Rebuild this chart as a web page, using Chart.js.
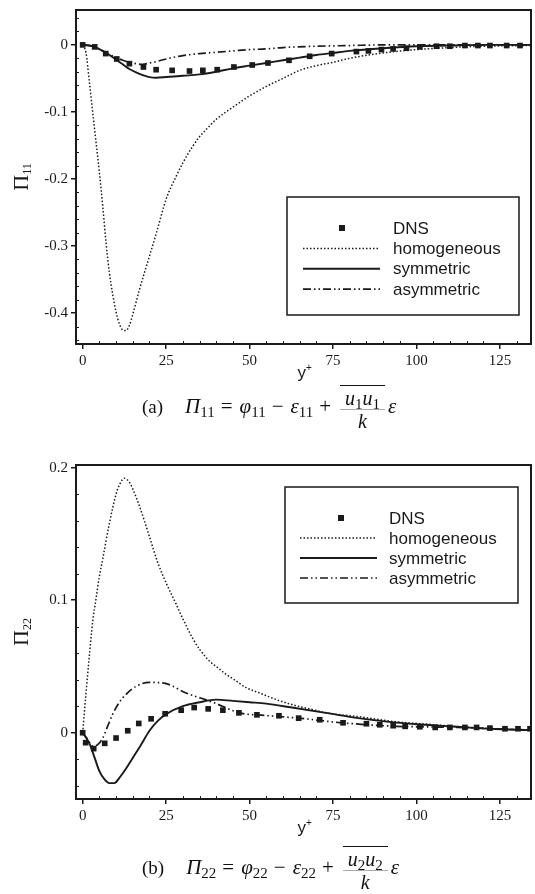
<!DOCTYPE html>
<html lang="en">
<head>
<meta charset="UTF-8">
<title>Pressure-strain redistribution terms</title>
<script src="https://cdn.jsdelivr.net/npm/chart.js"></script>
<style>
  body { margin: 0; background: #fff; width: 535px; height: 894px; position: relative; overflow: hidden; }
  canvas { position: absolute; left: 0; }
  #chartA { top: -2px; }
  #chartB { top: 453px; }
  .cap { position: absolute; left: 142px; font-family: 'Liberation Serif', serif; font-size: 21px; line-height: 24px; white-space: nowrap; color: #111; }
  .cap sub { font-size: 15px; line-height: 0; vertical-align: -4px; font-style: normal; }
  .cap .tag { margin-right: 22px; font-size: 19px; }
  .cap .op { margin: 0 7px 0 6px; }
  .frac { display: inline-block; vertical-align: middle; text-align: center; margin: 0 3px 0 2px; font-size: 20px; line-height: 22px; }
  .frac span { display: block; }
  .frac .num { border-top: 1px solid #111; border-bottom: 1px solid #aaa; padding: 1px 5px 0; }
</style>
</head>
<body>
<canvas id="chartA" width="535" height="394"></canvas>
<div class="cap" style="top:385px;">
  <span class="tag">(a)</span><i>Π</i><sub>11</sub><span class="op">=</span><i>φ</i><sub>11</sub><span class="op">−</span><i>ε</i><sub>11</sub><span class="op">+</span><span class="frac"><span class="num"><i>u</i><sub>1</sub><i>u</i><sub>1</sub></span><span><i>k</i></span></span><i>ε</i>
</div>
<canvas id="chartB" width="535" height="394"></canvas>
<div class="cap" style="top:846px;">
  <span class="tag">(b)</span><i>Π</i><sub>22</sub><span class="op">=</span><i>φ</i><sub>22</sub><span class="op">−</span><i>ε</i><sub>22</sub><span class="op">+</span><span class="frac"><span class="num"><i>u</i><sub>2</sub><i>u</i><sub>2</sub></span><span><i>k</i></span></span><i>ε</i>
</div>

<script>
// panel (a): Π11 against y+
const aDnsX = [0, 3.6, 6.9, 10.2, 14, 18.2, 22, 26.8, 32, 36, 40.3, 45.3, 50.8, 55.5, 61.8, 68, 74.6, 82, 85.6, 89.5, 93, 97, 101, 106, 110, 114.5, 118.4, 122, 127, 131];
const aDnsY = [0, -0.003, -0.013, -0.021, -0.028, -0.033, -0.037, -0.038, -0.039, -0.038, -0.037, -0.033, -0.030, -0.027, -0.023, -0.017, -0.013, -0.010, -0.009, -0.007, -0.006, -0.005, -0.003, -0.002, -0.002, -0.001, -0.001, -0.001, -0.001, -0.001];
const aHomX = [0, 1, 2, 3, 4, 5, 6, 7, 8, 9, 10, 11, 12, 13, 14, 15, 17, 20, 22, 25, 28, 30, 33, 35, 38, 40, 45, 50, 55, 60, 65, 70, 75, 80, 90, 100, 110, 120, 134];
const aHomY = [0, -0.012, -0.055, -0.1, -0.145, -0.19, -0.24, -0.295, -0.34, -0.372, -0.398, -0.416, -0.425, -0.426, -0.418, -0.402, -0.365, -0.315, -0.282, -0.23, -0.196, -0.176, -0.151, -0.137, -0.121, -0.111, -0.093, -0.076, -0.062, -0.05, -0.038, -0.031, -0.026, -0.02, -0.012, -0.007, -0.004, -0.002, -0.001];
const aSymX = [0, 2, 4, 6, 8, 10, 12, 14, 16, 18, 20, 22, 25, 30, 35, 40, 45, 50, 55, 60, 65, 70, 75, 80, 90, 100, 110, 120, 134];
const aSymY = [0, -0.001, -0.004, -0.009, -0.015, -0.022, -0.029, -0.036, -0.041, -0.045, -0.048, -0.049, -0.048, -0.046, -0.044, -0.04, -0.035, -0.031, -0.027, -0.023, -0.019, -0.015, -0.012, -0.009, -0.005, -0.002, -0.001, 0, 0];
const aAsymX = [0, 2, 4, 6, 8, 10, 12, 14, 16, 18, 20, 22, 25, 30, 35, 40, 45, 50, 55, 60, 70, 80, 90, 134];
const aAsymY = [0, -0.001, -0.004, -0.009, -0.014, -0.019, -0.023, -0.026, -0.028, -0.029, -0.027, -0.025, -0.021, -0.016, -0.013, -0.011, -0.009, -0.007, -0.006, -0.004, -0.002, -0.001, 0, 0];

// panel (b): Π22 against y+
const bDnsX = [0, 0.9, 3.3, 6.6, 10, 13.5, 16.8, 20.5, 24.7, 29.5, 33.4, 37.6, 42, 46.8, 52.2, 58.8, 64.7, 71, 78, 85, 89, 93, 96.6, 101, 105.6, 110, 114.5, 118, 122, 126.5, 130.4, 134];
const bDnsY = [0, -0.0075, -0.012, -0.008, -0.004, 0.0015, 0.007, 0.0105, 0.0143, 0.017, 0.019, 0.018, 0.017, 0.015, 0.0135, 0.0128, 0.011, 0.0098, 0.0075, 0.0068, 0.006, 0.0053, 0.0048, 0.0045, 0.004, 0.004, 0.004, 0.004, 0.0035, 0.003, 0.003, 0.003];
const bHomX = [0, 1, 2, 3, 4, 5, 6, 8, 10, 11, 12.5, 14, 15, 17, 20, 22.4, 25, 28, 30, 33, 35, 38, 40, 43, 46, 49, 53, 58, 63, 68, 73, 83, 93, 103, 113, 123, 134];
const bHomY = [0, 0.03, 0.058, 0.084, 0.101, 0.118, 0.131, 0.158, 0.18, 0.187, 0.192, 0.189, 0.184, 0.171, 0.148, 0.129, 0.113, 0.097, 0.086, 0.071, 0.063, 0.054, 0.05, 0.044, 0.039, 0.034, 0.03, 0.025, 0.021, 0.018, 0.015, 0.012, 0.0085, 0.0065, 0.0045, 0.003, 0.002];
const bSymX = [0, 2, 3.6, 5, 6.5, 8, 9.5, 11, 13, 15, 17.5, 20, 22.5, 25, 30, 35, 40, 45, 50, 55, 62.7, 72.8, 82.6, 92.5, 102.6, 112, 122, 134];
const bSymY = [0, -0.008, -0.019, -0.029, -0.035, -0.038, -0.038, -0.034, -0.027, -0.019, -0.009, 0.0015, 0.009, 0.014, 0.02, 0.023, 0.025, 0.024, 0.023, 0.022, 0.019, 0.015, 0.011, 0.008, 0.006, 0.0045, 0.003, 0.002];
const bAsymX = [0, 1.5, 3, 4.5, 6, 7.5, 9, 11, 13, 16, 20, 25, 31, 39, 47, 55, 64.7, 77.6, 92.5, 112, 134];
const bAsymY = [0, -0.005, -0.01, -0.009, -0.004, 0.005, 0.014, 0.023, 0.029, 0.035, 0.038, 0.037, 0.03, 0.023, 0.015, 0.013, 0.011, 0.0075, 0.005, 0.004, 0.002];

const xTicks = [0, 25, 50, 75, 100, 125];
const aYTicks = [-0.4, -0.3, -0.2, -0.1, 0];
const bYTicks = [0, 0.1, 0.2];
const seriesLabels = ['DNS', 'homogeneous', 'symmetric', 'asymmetric'];

const ink = '#1a1a1a';
const lineStyles = [null,
  { dash: [1.5, 2], width: 1.5 },
  { dash: [], width: 1.9 },
  { dash: [8, 3, 1.5, 3, 1.5, 3], width: 1.7 }];

const pts = (xs, ys) => xs.map((x, i) => ({ x: x, y: ys[i] }));

// frame, inward minor ticks, axis titles and boxed legend
const framePlugin = {
  id: 'frame',
  afterDraw(chart, args, opts) {
    const { ctx, chartArea: a } = chart;
    const x = chart.scales.x, y = chart.scales.y;
    ctx.save();
    ctx.strokeStyle = ink;
    ctx.fillStyle = ink;
    ctx.lineWidth = 2;
    ctx.strokeRect(a.left, a.top, a.right - a.left, a.bottom - a.top);

    ctx.lineWidth = 1;
    ctx.beginPath();
    for (let v = 5; v < x.max; v += 5) {
      if (v % 25 === 0) continue;
      const px = Math.round(x.getPixelForValue(v)) + 0.5;
      ctx.moveTo(px, a.bottom); ctx.lineTo(px, a.bottom - 3);
    }
    for (let k = Math.ceil(y.min / 0.02); k * 0.02 <= y.max; k++) {
      if (k % 5 === 0) continue;
      const py = Math.round(y.getPixelForValue(k * 0.02)) + 0.5;
      ctx.moveTo(a.left, py); ctx.lineTo(a.left + 3, py);
    }
    ctx.stroke();

    // y title, rotated
    ctx.save();
    ctx.translate(20, (a.top + a.bottom) / 2);
    ctx.rotate(-Math.PI / 2);
    ctx.textBaseline = 'alphabetic';
    ctx.font = '22px "Liberation Serif"';
    const wPi = ctx.measureText('Π').width;
    ctx.font = '12px "Liberation Serif"';
    const wSub = ctx.measureText(opts.sub).width;
    const x0 = -(wPi + wSub) / 2;
    ctx.font = '22px "Liberation Serif"';
    ctx.fillText('Π', x0, 7.5);
    ctx.font = '12px "Liberation Serif"';
    ctx.fillText(opts.sub, x0 + wPi, 10.5);
    ctx.restore();

    // x title
    const cx = (a.left + a.right) / 2 - 6;
    ctx.font = '17px "Liberation Sans"';
    ctx.textBaseline = 'alphabetic';
    ctx.fillText('y', cx, a.bottom + 34);
    const wy = ctx.measureText('y').width;
    ctx.font = '10px "Liberation Sans"';
    ctx.fillText('+', cx + wy, a.bottom + 27);

    // legend
    const lg = opts.legend;
    ctx.lineWidth = 1.5;
    ctx.setLineDash([]);
    ctx.strokeRect(lg.left, lg.top, lg.width, lg.height);
    ctx.font = '17px "Liberation Sans"';
    ctx.textBaseline = 'middle';
    seriesLabels.forEach((label, i) => {
      const ry = lg.row0 + i * lg.step;
      if (i === 0) {
        ctx.fillRect(lg.mark - 3, ry - 3, 6, 6);
      } else {
        ctx.setLineDash(lineStyles[i].dash);
        ctx.lineWidth = lineStyles[i].width;
        ctx.beginPath();
        ctx.moveTo(lg.lineL, ry); ctx.lineTo(lg.lineR, ry);
        ctx.stroke();
        ctx.setLineDash([]);
      }
      ctx.fillText(label, lg.text, ry + 1);
    });
    ctx.restore();
  }
};

function buildChart(id, series, yMin, yMax, yTicks, frameOpts) {
  const datasets = series.map((s, i) => i === 0 ? {
    data: s, showLine: false, pointStyle: 'rect', pointRadius: 4,
    backgroundColor: ink, borderWidth: 0
  } : {
    data: s, showLine: true, pointRadius: 0, fill: false,
    borderColor: ink, borderWidth: lineStyles[i].width, borderDash: lineStyles[i].dash,
    cubicInterpolationMode: 'monotone'
  });
  const tickFont = { family: 'Liberation Serif', size: 15 };
  return new Chart(document.getElementById(id), {
    type: 'scatter',
    data: { datasets: datasets },
    plugins: [framePlugin],
    options: {
      responsive: false,
      animation: false,
      events: [],
      layout: { padding: { top: 10, right: 2, left: 0, bottom: 0 } },
      plugins: { legend: { display: false }, tooltip: { enabled: false }, frame: frameOpts },
      scales: {
        x: {
          type: 'linear', min: -2, max: 134.3,
          afterBuildTicks: s => { s.ticks = xTicks.map(v => ({ value: v })); },
          afterFit: s => { s.height = 48; },
          ticks: { color: ink, font: tickFont, padding: 3, maxRotation: 0 },
          grid: { display: true, drawOnChartArea: false, drawTicks: true, tickLength: 5, color: ink, lineWidth: 1.5 },
          border: { display: true, color: ink, width: 2 }
        },
        y: {
          type: 'linear', min: yMin, max: yMax,
          afterBuildTicks: s => { s.ticks = yTicks.map(v => ({ value: v })); },
          afterFit: s => { s.width = 76; },
          ticks: { color: ink, font: tickFont, padding: 3, callback: v => String(v) },
          grid: { display: true, drawOnChartArea: false, drawTicks: true, tickLength: 5, color: ink, lineWidth: 1.5 },
          border: { display: true, color: ink, width: 2 }
        }
      }
    }
  });
}

buildChart('chartA',
  [pts(aDnsX, aDnsY), pts(aHomX, aHomY), pts(aSymX, aSymY), pts(aAsymX, aAsymY)],
  -0.446, 0.052, aYTicks,
  { sub: '11', legend: { left: 287, top: 199, width: 232, height: 118, row0: 230, step: 20.4, mark: 342, lineL: 303, lineR: 380, text: 393 } });

buildChart('chartB',
  [pts(bDnsX, bDnsY), pts(bHomX, bHomY), pts(bSymX, bSymY), pts(bAsymX, bAsymY)],
  -0.05, 0.202, bYTicks,
  { sub: '22', legend: { left: 285, top: 34, width: 233, height: 116, row0: 65, step: 20, mark: 341, lineL: 300, lineR: 377, text: 389 } });
</script>
</body>
</html>
